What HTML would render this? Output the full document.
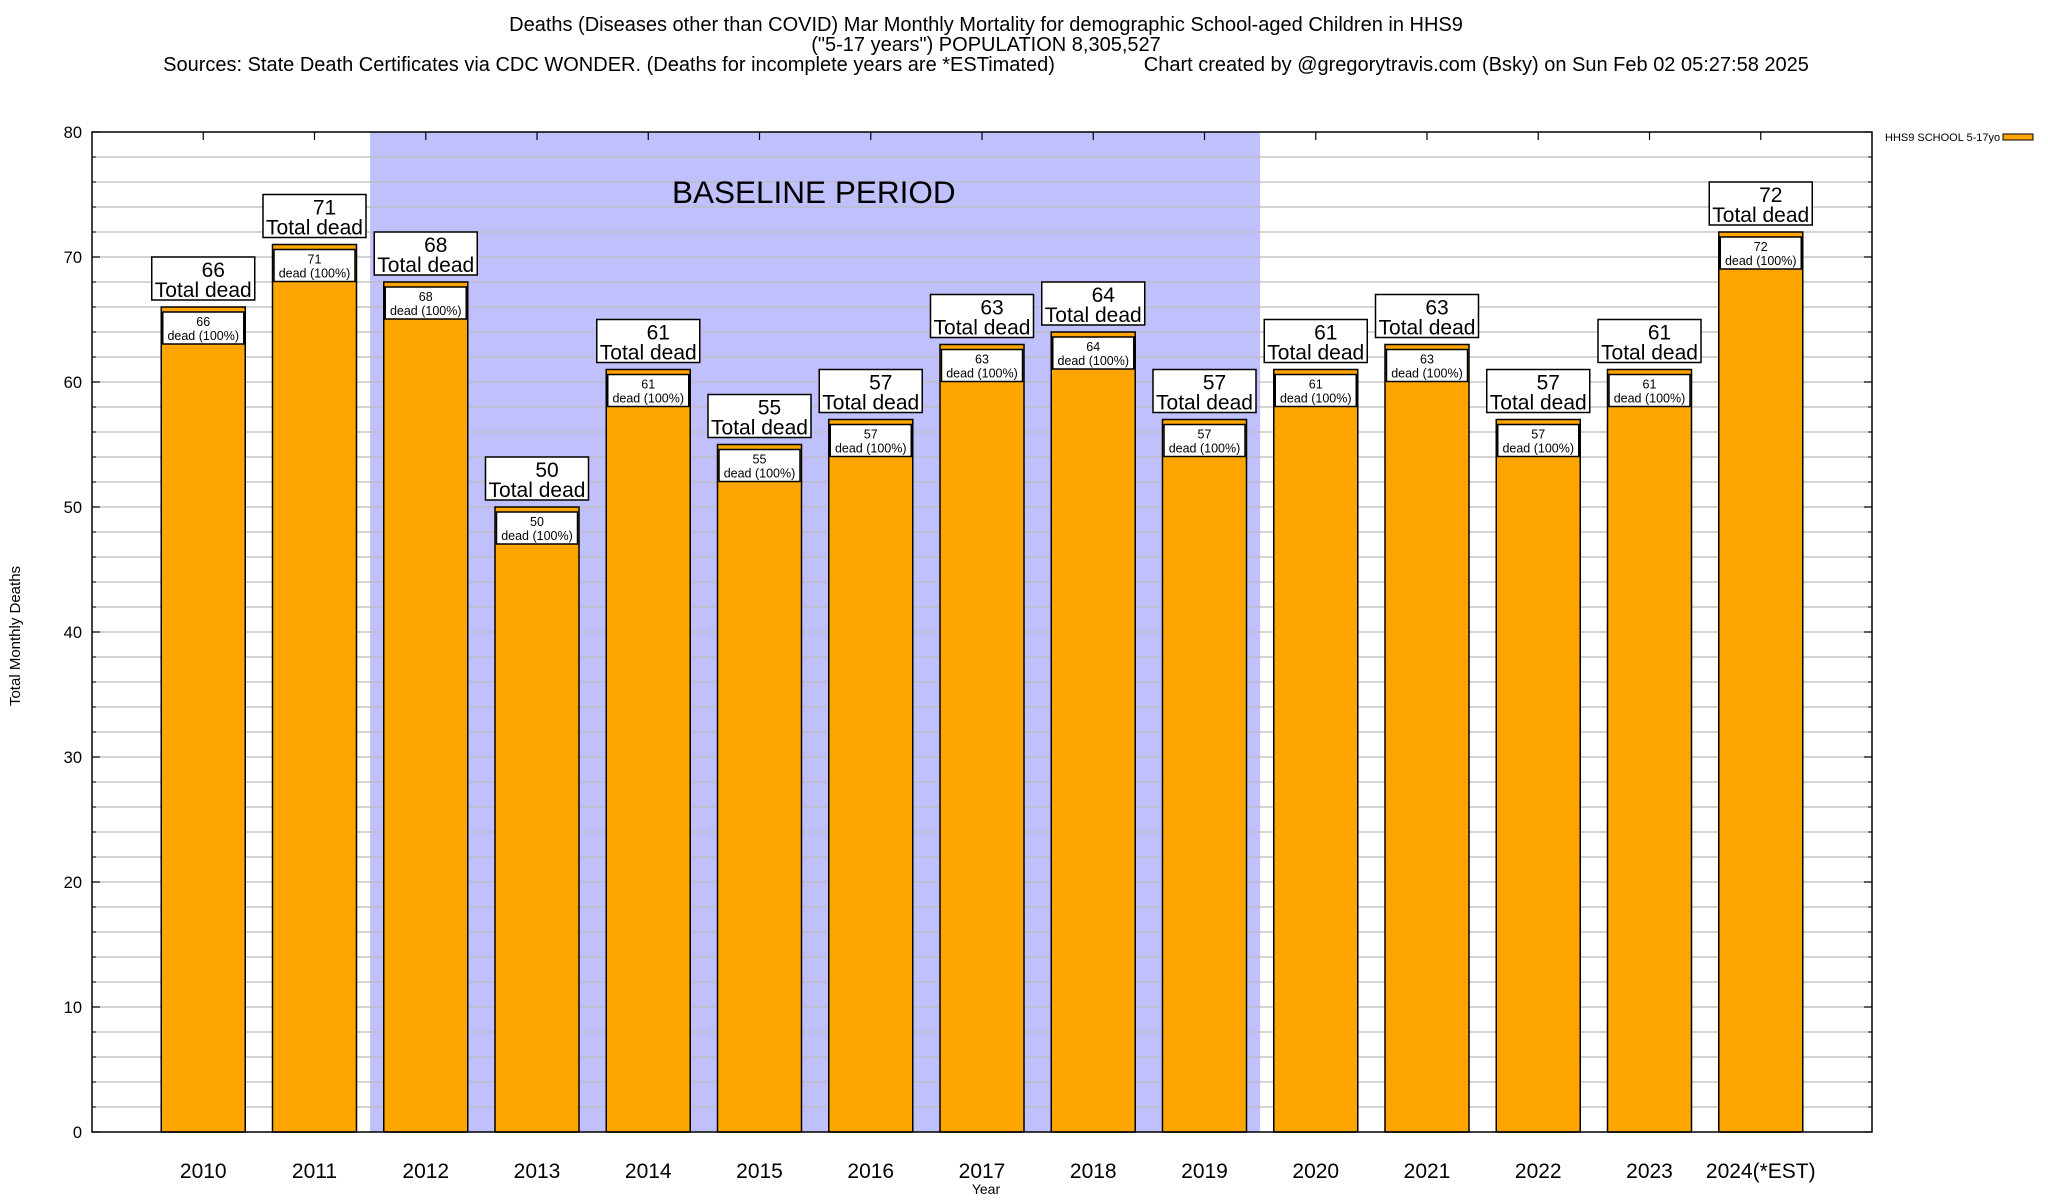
<!DOCTYPE html>
<html><head><meta charset="utf-8"><style>
html,body{margin:0;padding:0;background:#fff;}
svg{display:block;font-family:"Liberation Sans",Arial,sans-serif;}
</style></head><body>
<svg id="chart" width="2048" height="1200" viewBox="0 0 2048 1200" xmlns="http://www.w3.org/2000/svg">
<g font-size="20" text-anchor="middle" fill="#000">
<text x="986" y="31">Deaths (Diseases other than COVID) Mar Monthly Mortality for demographic School-aged Children in HHS9</text>
<text x="986" y="51">("5-17 years") POPULATION 8,305,527</text>
<text x="986" y="71" xml:space="preserve">Sources: State Death Certificates via CDC WONDER. (Deaths for incomplete years are *ESTimated)                Chart created by @gregorytravis.com (Bsky) on Sun Feb 02 05:27:58 2025</text>
</g>
<g id="plot"></g>
</svg>
<script>
const categories = ["2010","2011","2012","2013","2014","2015","2016","2017","2018","2019","2020","2021","2022","2023","2024(*EST)"];
const deaths = [66,71,68,50,61,55,57,63,64,57,61,63,57,61,72];
const yTicks = [0,10,20,30,40,50,60,70,80];
const baselineStart = 1.5, baselineEnd = 9.5;

const L=92, R=1872, T=132, B=1132, yMax=80;
const step=(R-L)/(categories.length+1);
const xs=i=>L+step*(i+1);
const ys=v=>B-(B-T)*v/yMax;
const NS="http://www.w3.org/2000/svg";
const g=document.getElementById('plot');
function mk(tag,attrs,parent){const e=document.createElementNS(NS,tag);for(const k in attrs)e.setAttribute(k,attrs[k]);(parent||g).appendChild(e);return e;}

const sh=mk('rect',{x:xs(baselineStart),y:T,width:xs(baselineEnd)-xs(baselineStart),height:B-T,fill:'#c0c0fc'});


for(let v=2;v<yMax;v+=2){
  const gl=mk('line',{x1:L,x2:R,y1:ys(v),y2:ys(v),stroke:'#bbbbbb','stroke-width':1.2});
  
  
}
const bt=mk('text',{x:672,y:203,'font-size':31.5,fill:'#000'});
bt.textContent='BASELINE PERIOD';



yTicks.forEach(v=>{
  const t=mk('text',{x:82,y:ys(v)+6,'font-size':16.5,'text-anchor':'end'});
  t.textContent=v;
  
  
  mk('line',{x1:L,x2:L+8,y1:ys(v),y2:ys(v),stroke:'#000','stroke-width':1.2});
  mk('line',{x1:R,x2:R-8,y1:ys(v),y2:ys(v),stroke:'#000','stroke-width':1.2});
});
for(let v=0;v<=yMax;v+=2){mk('line',{x1:L,x2:L+4,y1:ys(v),y2:ys(v),stroke:'#000'});mk('line',{x1:R,x2:R-4,y1:ys(v),y2:ys(v),stroke:'#000'});}

const bw=84;
categories.forEach((c,i)=>{
  const cx=xs(i), v=deaths[i], top=ys(v);
  mk('line',{x1:cx,x2:cx,y1:T,y2:T+8,stroke:'#000','stroke-width':1.2});
  const bar=mk('rect',{x:cx-bw/2,y:top,width:bw,height:B-top,fill:'#ffa500',stroke:'#000','stroke-width':1.5});
  
  
  const ib=mk('rect',{x:cx-40.5,y:top+5,width:81,height:32,fill:'#fff',stroke:'#000','stroke-width':1.5});
  
  
  const t1=mk('text',{x:cx,y:top+19,'font-size':12.5,'text-anchor':'middle'});t1.textContent=v;
  
  
  const t2=mk('text',{x:cx,y:top+33,'font-size':12.5,'text-anchor':'middle'});t2.textContent='dead (100%)';
  
  
  const ob=mk('rect',{x:cx-51.5,y:top-50,width:103,height:43,fill:'#fff',stroke:'#000','stroke-width':1.5});
  
  
  const o1=mk('text',{x:cx+10,y:top-30,'font-size':21,'text-anchor':'middle'});o1.textContent=v;
  
  
  const o2=mk('text',{x:cx,y:top-10,'font-size':21,'text-anchor':'middle'});o2.textContent='Total dead';
  
  
  const xl=mk('text',{x:cx,y:1178,'font-size':21,'text-anchor':'middle'});xl.textContent=c;
  
  
});
const fr=mk('rect',{x:L,y:T,width:R-L,height:B-T,fill:'none',stroke:'#000','stroke-width':1.5});


const xt=mk('text',{x:986,y:1194,'font-size':14,'text-anchor':'middle'});xt.textContent='Year';


const yt=mk('text',{x:0,y:0,'font-size':15,'text-anchor':'middle',transform:'translate(20,636) rotate(-90)'});yt.textContent='Total Monthly Deaths';


const lt=mk('text',{x:1885,y:141,'font-size':11}); lt.textContent='HHS9 SCHOOL 5-17yo';


const ls=mk('rect',{x:2003,y:134,width:30,height:6,fill:'#ffa500',stroke:'#000','stroke-width':1});


</script>
</body></html>
